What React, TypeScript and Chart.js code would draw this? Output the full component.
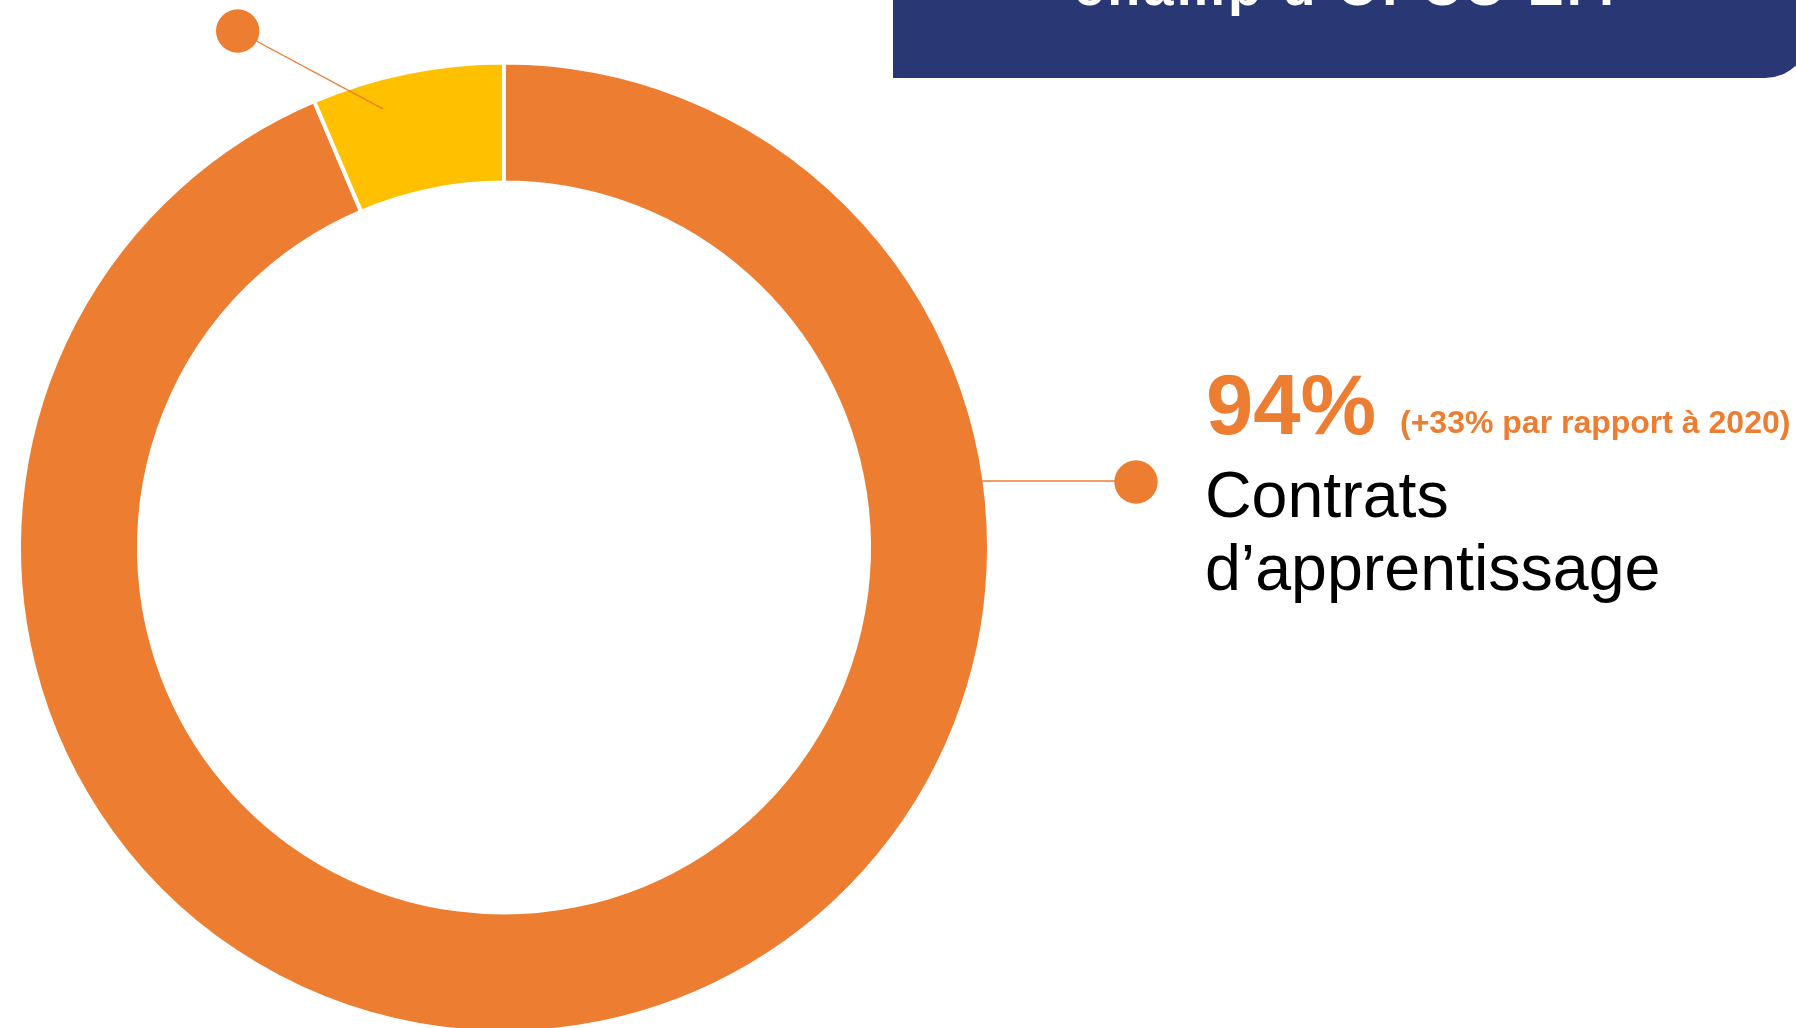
import React, { useEffect, useRef } from "react";
import { Chart, registerables } from "chart.js";

Chart.register(...registerables);

// ---- Data ----
const categories = ["Contrats d’apprentissage", "Contrats de professionnalisation"];
const shares = [93.6, 6.4];
const sliceColors = ["#ED7D31", "#FFC000"];
const headlineValue = "94%";
const headlineNote = "(+33% par rapport à 2020)";
const labelLines = ["Contrats", "d’apprentissage"];
const bannerText = "champ d’OPCO EP.";

const ORANGE = "#ED7D31";
const NAVY = "#293775";
const FONT = "'Liberation Sans', Arial, Helvetica, sans-serif";

const W = 1796;
const H = 1028;

const leaderPlugin = {
  id: "leaders",
  afterDatasetsDraw(chart: any) {
    const meta = chart.getDatasetMeta(0);
    const arcMain = meta.data[0] as any;
    const arcSmall = meta.data[1] as any;
    if (!arcMain || !arcSmall) return;
    const ctx = chart.ctx as CanvasRenderingContext2D;
    const cx = arcMain.x;
    const cy = arcMain.y;
    const Rvis = arcMain.outerRadius - 2;
    ctx.save();
    ctx.strokeStyle = ORANGE;
    ctx.fillStyle = ORANGE;
    ctx.lineWidth = 1.5;

    // Right leader (main slice)
    const ly = 481;
    const lx = cx + Math.sqrt(Math.max(Rvis * Rvis - (ly - cy) * (ly - cy), 0));
    const dotR = { x: 1136, y: 482 };
    ctx.beginPath();
    ctx.moveTo(lx, ly);
    ctx.lineTo(dotR.x, ly);
    ctx.stroke();
    ctx.beginPath();
    ctx.arc(dotR.x, dotR.y, 21.7, 0, Math.PI * 2);
    ctx.fill();

    // Top-left leader (small slice)
    const p = arcSmall.getProps(["startAngle", "endAngle", "innerRadius", "outerRadius"], true);
    const ang = p.startAngle + 0.33 * (p.endAngle - p.startAngle);
    const r = p.innerRadius + 0.75 * (p.outerRadius - p.innerRadius);
    const ax = cx + r * Math.cos(ang);
    const ay = cy + r * Math.sin(ang);
    const dotL = { x: 237.7, y: 31 };
    ctx.lineWidth = 1.3;
    ctx.beginPath();
    ctx.moveTo(dotL.x, dotL.y);
    ctx.lineTo(ax, ay);
    ctx.stroke();
    ctx.beginPath();
    ctx.arc(dotL.x, dotL.y, 21.7, 0, Math.PI * 2);
    ctx.fill();
    ctx.restore();
  },
};

export default function App() {
  const canvasRef = useRef<HTMLCanvasElement | null>(null);

  useEffect(() => {
    if (!canvasRef.current) return;
    const chart = new Chart(canvasRef.current, {
      type: "doughnut",
      data: {
        labels: categories,
        datasets: [
          {
            data: shares,
            backgroundColor: sliceColors,
            borderColor: "#FFFFFF",
            borderWidth: 4,
            hoverOffset: 0,
          },
        ],
      },
      options: {
        responsive: true,
        maintainAspectRatio: false,
        animation: false,
        cutout: "75.26%",
        layout: { padding: { left: 17, top: 60.5, right: 805, bottom: 65.5 } },
        plugins: {
          legend: { display: false },
          tooltip: { enabled: false },
        },
        events: [],
      },
      plugins: [leaderPlugin],
    });
    return () => chart.destroy();
  }, []);

  return (
    <div
      style={{
        position: "fixed",
        left: 0,
        top: 0,
        width: W,
        height: H,
        overflow: "hidden",
        background: "#FFFFFF",
      }}
    >
      <div style={{ position: "absolute", left: 0, top: 0, width: W, height: 1100 }}>
        <canvas ref={canvasRef} />
      </div>
      <svg
        width={W}
        height={H}
        viewBox={`0 0 ${W} ${H}`}
        style={{ position: "absolute", left: 0, top: 0, pointerEvents: "none" }}
      >
        <path d="M893,-10 L893,78 L1765,78 A45,45 0 0 0 1810,33 L1810,-10 Z" fill={NAVY} />
        <text
          x={1074}
          y={5}
          fontFamily={FONT}
          fontWeight="bold"
          fontSize={54}
          fill="#FFFFFF"
          textLength={540}
          lengthAdjust="spacing"
        >
          {bannerText}
        </text>
        <text x={1206} y={434} fontFamily={FONT} fontWeight="bold" fontSize={85} fill={ORANGE}>
          {headlineValue}
        </text>
        <text x={1400} y={433} fontFamily={FONT} fontWeight="bold" fontSize={32} fill={ORANGE}>
          {headlineNote}
        </text>
        <text x={1205} y={517} fontFamily={FONT} fontSize={64.5} fill="#000000">
          {labelLines[0]}
        </text>
        <text x={1205} y={590} fontFamily={FONT} fontSize={64.5} fill="#000000">
          {labelLines[1]}
        </text>
      </svg>
    </div>
  );
}
